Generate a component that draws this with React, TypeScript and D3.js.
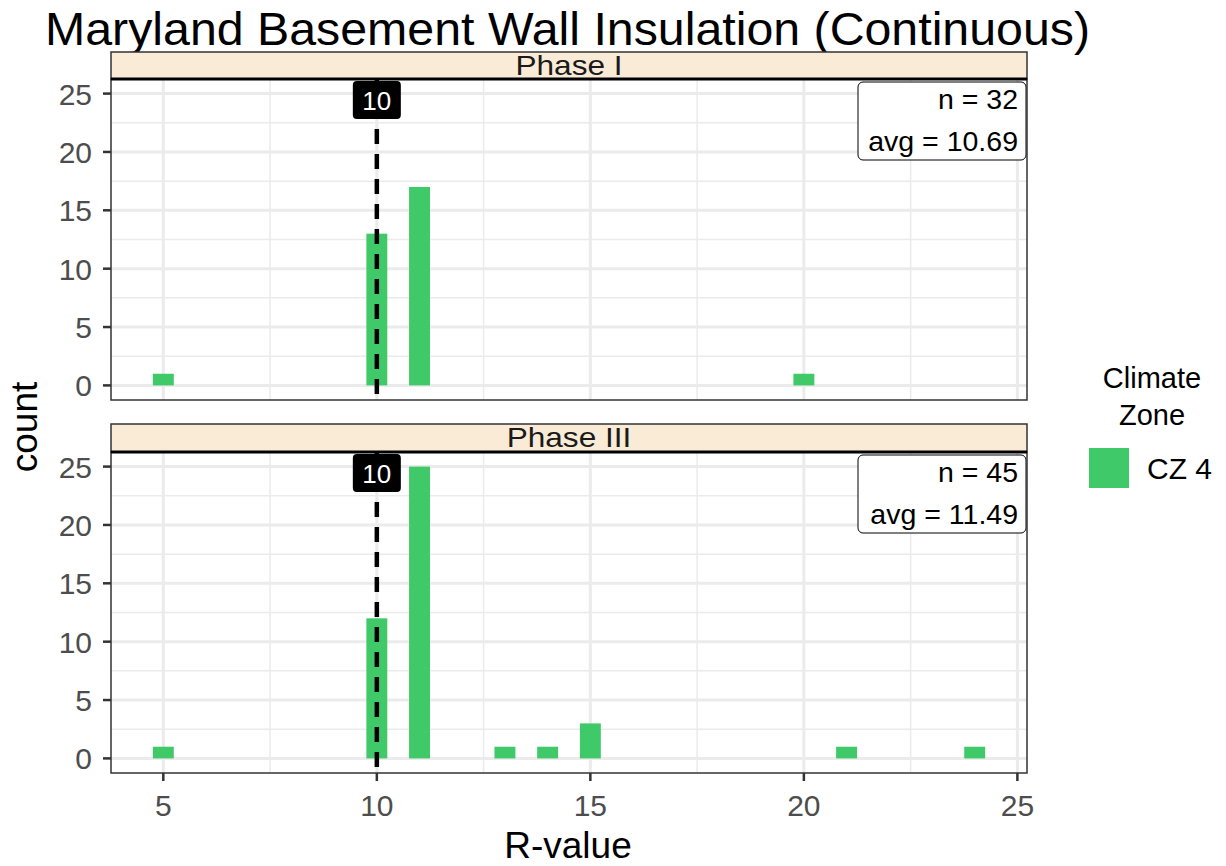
import React from "react";
import * as d3 from "d3";

const phases = ["Phase I", "Phase III"];
const phase1R = [5, 10, 11, 20];
const phase1Count = [1, 13, 17, 1];
const phase3R = [5, 10, 11, 13, 14, 15, 21, 24];
const phase3Count = [1, 12, 25, 1, 1, 3, 1, 1];
const refLine = 10;
const xTicks = [5, 10, 15, 20, 25];
const yTicks = [0, 5, 10, 15, 20, 25];
const legendLabel = "CZ 4";
const barColor = "#3FC969";

export default function App() {
  const W = 1226, H = 866;
  const left = 111, right = 1027;
  const panels = [
    { name: phases[0], r: phase1R, c: phase1Count, stripTop: 52, top: 79, bottom: 400 },
    { name: phases[1], r: phase3R, c: phase3Count, stripTop: 424, top: 452, bottom: 773 },
  ];
  const x = d3.scaleLinear().domain([3.775, 25.225]).range([left, right]);
  const bw = x(0.49) - x(0);
  const font = "Liberation Sans, Arial, sans-serif";
  const minorX = [7.5, 12.5, 17.5, 22.5];
  const minorY = [2.5, 7.5, 12.5, 17.5, 22.5];
  const cx = (left + right) / 2;

  return (
    <svg width={W} height={H} style={{ position: "absolute", left: 0, top: 0, background: "#fff" }} fontFamily={font}>
      <text transform="translate(45,45) scale(1.05,1)" x={0} y={0} fontSize={46} fill="#000">Maryland Basement Wall Insulation (Continuous)</text>
      {panels.map((p, pi) => {
        const y = d3.scaleLinear().domain([-1.25, 26.25]).range([p.bottom, p.top]);
        const n = d3.sum(p.c);
        const avg = d3.sum(p.r.map((r, i) => r * p.c[i])) / n;
        return (
          <g key={pi}>
            <rect x={left} y={p.top} width={right - left} height={p.bottom - p.top} fill="#fff" />
            {minorX.map((v) => (
              <line key={"mx" + v} x1={x(v)} x2={x(v)} y1={p.top} y2={p.bottom} stroke="#ebebeb" strokeWidth={1.5} />
            ))}
            {minorY.map((v) => (
              <line key={"my" + v} x1={left} x2={right} y1={y(v)} y2={y(v)} stroke="#ebebeb" strokeWidth={1.5} />
            ))}
            {xTicks.map((v) => (
              <line key={"gx" + v} x1={x(v)} x2={x(v)} y1={p.top} y2={p.bottom} stroke="#ebebeb" strokeWidth={3} />
            ))}
            {yTicks.map((v) => (
              <line key={"gy" + v} x1={left} x2={right} y1={y(v)} y2={y(v)} stroke="#ebebeb" strokeWidth={3} />
            ))}
            {p.r.map((r, i) => (
              <rect key={"b" + i} x={x(r) - bw / 2} y={y(p.c[i])} width={bw} height={y(0) - y(p.c[i])} fill={barColor} />
            ))}
            <line x1={x(refLine)} x2={x(refLine)} y1={p.top} y2={p.bottom} stroke="#000" strokeWidth={4.5} strokeDasharray="15,10" />
            <rect x={x(refLine) - 24} y={p.top + 2} width={48} height={38} rx={4} fill="#000" />
            <text x={x(refLine)} y={p.top + 31} fontSize={26} fill="#fff" textAnchor="middle">{String(refLine)}</text>
            <rect x={858} y={p.top + 3} width={168} height={78} rx={5} fill="#fff" stroke="#000" strokeWidth={1} />
            <text x={1018} y={p.top + 30} fontSize={28.5} textAnchor="end" fill="#000">{`n = ${n}`}</text>
            <text x={1018} y={p.top + 72} fontSize={28.5} textAnchor="end" fill="#000">{`avg = ${avg.toFixed(2)}`}</text>
            <rect x={left} y={p.top} width={right - left} height={p.bottom - p.top} fill="none" stroke="#333" strokeWidth={1.5} />
            <rect x={left} y={p.stripTop} width={right - left} height={p.top - p.stripTop} fill="#FAEBD7" stroke="#333" strokeWidth={1.5} />
            <line x1={left} x2={right} y1={p.top} y2={p.top} stroke="#000" strokeWidth={3} />
            <text transform={`translate(${cx},${p.stripTop + 23}) scale(1.17,1)`} x={0} y={0} fontSize={27} textAnchor="middle" fill="#1a1a1a">{p.name}</text>
            {yTicks.map((v) => (
              <g key={"yt" + v}>
                <line x1={left - 8} x2={left} y1={y(v)} y2={y(v)} stroke="#333" strokeWidth={2.5} />
                <text x={left - 19} y={y(v) + 11} fontSize={30} textAnchor="end" fill="#4d4d4d">{v}</text>
              </g>
            ))}
            {pi === 1 && xTicks.map((v) => (
              <g key={"xt" + v}>
                <line x1={x(v)} x2={x(v)} y1={p.bottom} y2={p.bottom + 8} stroke="#333" strokeWidth={2.5} />
                <text x={x(v)} y={p.bottom + 43} fontSize={30} textAnchor="middle" fill="#4d4d4d">{v}</text>
              </g>
            ))}
          </g>
        );
      })}
      <text x={568} y={858} fontSize={37} textAnchor="middle" fill="#000">R-value</text>
      <text transform="translate(37,427) rotate(-90)" fontSize={37} textAnchor="middle" fill="#000">count</text>
      <text x={1152} y={388} fontSize={29} textAnchor="middle" fill="#000">Climate</text>
      <text x={1152} y={425} fontSize={29} textAnchor="middle" fill="#000">Zone</text>
      <rect x={1089} y={448} width={40} height={40} fill={barColor} />
      <text x={1147} y={479} fontSize={30} fill="#000">{legendLabel}</text>
    </svg>
  );
}
